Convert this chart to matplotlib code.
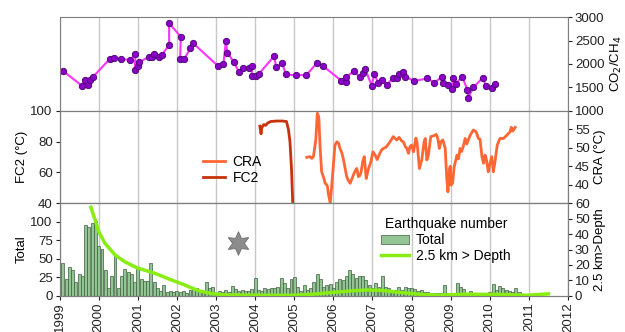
import matplotlib
matplotlib.use("Agg")
import matplotlib.pyplot as plt
import numpy as np

plt.rcParams['font.family'] = ['Liberation Sans', 'DejaVu Sans']
plt.rcParams['font.size'] = 9.5

# CO2/CH4 ratio samples
co2_year = [1999.09, 1999.57, 1999.65, 1999.73, 1999.78, 1999.85, 2000.29, 2000.39, 2000.56, 2000.80,
            2000.94, 2000.92, 2001.01, 2001.03, 2001.28, 2001.36, 2001.42, 2001.54, 2001.62, 2001.80,
            2001.80, 2002.10, 2002.08, 2002.19, 2002.34, 2002.42, 2003.04, 2003.19, 2003.25, 2003.29,
            2003.45, 2003.59, 2003.69, 2003.84, 2003.92, 2003.91, 2004.02, 2004.10, 2004.48, 2004.54,
            2004.69, 2004.79, 2005.04, 2005.31, 2005.57, 2005.73, 2006.20, 2006.33, 2006.33, 2006.53,
            2006.67, 2006.77, 2006.81, 2006.98, 2007.05, 2007.15, 2007.25, 2007.37, 2007.52, 2007.62,
            2007.68, 2007.77, 2007.84, 2008.07, 2008.40, 2008.58, 2008.77, 2008.80, 2008.94, 2009.03,
            2009.07, 2009.13, 2009.30, 2009.43, 2009.45, 2009.58, 2009.82, 2009.90, 2010.05, 2010.14]
co2_val = [1849, 1534, 1649, 1541, 1649, 1720, 2116, 2138, 2108, 2086,
           2209, 1864, 1950, 2037, 2151, 2151, 2224, 2151, 2203, 2409,
           2871, 2582, 2108, 2116, 2332, 2440, 1966, 2009, 2483, 2246,
           2040, 1825, 1914, 1907, 1957, 1735, 1735, 1793, 2162, 1935,
           2012, 1775, 1757, 1765, 2012, 1962, 1645, 1620, 1720, 1849,
           1720, 1806, 1901, 1538, 1778, 1585, 1667, 1556, 1698, 1698,
           1778, 1828, 1728, 1634, 1692, 1599, 1720, 1599, 1556, 1470,
           1707, 1578, 1728, 1433, 1282, 1498, 1707, 1526, 1483, 1578]

# FC2 fumarole temperature
fc2_year = [2004.12, 2004.15, 2004.17, 2004.22, 2004.27, 2004.32, 2004.40, 2004.55, 2004.70,
            2004.80, 2004.85, 2004.89, 2004.93, 2004.96]
fc2_val = [90, 85, 89, 91, 90.5, 92, 93, 93.3, 93.3, 93, 88, 80, 62, 41]

# CRA temperature
cra_year = [2005.32, 2005.40, 2005.45, 2005.49, 2005.55, 2005.59, 2005.62, 2005.63, 2005.66, 2005.70,
            2005.75, 2005.79, 2005.83, 2005.85, 2005.87, 2005.92, 2005.96, 2006.00, 2006.04, 2006.09,
            2006.13, 2006.17, 2006.22, 2006.26, 2006.30, 2006.34, 2006.39, 2006.43, 2006.47, 2006.51,
            2006.56, 2006.60, 2006.64, 2006.68, 2006.71, 2006.75, 2006.79, 2006.84, 2006.89, 2006.92,
            2006.96, 2007.01, 2007.07, 2007.12, 2007.19, 2007.24, 2007.28, 2007.35, 2007.45, 2007.53,
            2007.58, 2007.62, 2007.68, 2007.75, 2007.79, 2007.84, 2007.88, 2007.92, 2007.96, 2008.00,
            2008.05, 2008.11, 2008.14, 2008.20, 2008.26, 2008.32, 2008.35, 2008.39, 2008.43, 2008.49,
            2008.56, 2008.63, 2008.67, 2008.71, 2008.75, 2008.80, 2008.86, 2008.90, 2008.93, 2008.97,
            2008.99, 2009.01, 2009.05, 2009.09, 2009.16, 2009.20, 2009.24, 2009.28, 2009.32, 2009.37,
            2009.41, 2009.50, 2009.58, 2009.65, 2009.71, 2009.75, 2009.80, 2009.84, 2009.88, 2009.92,
            2009.96, 2010.00, 2010.05, 2010.09, 2010.13, 2010.19, 2010.26, 2010.35, 2010.40, 2010.48,
            2010.52, 2010.55, 2010.59, 2010.65]
cra_val = [47.4, 47.6, 47.1, 47.6, 52.0, 59.3, 58.5, 57.9, 50.3, 43.5,
           42.0, 40.4, 40.0, 39.5, 37.7, 35.0, 39.9, 45.3, 50.7, 51.6,
           51.3, 49.8, 48.5, 46.7, 44.5, 42.2, 41.0, 40.4, 41.5, 42.6,
           43.8, 44.4, 42.2, 42.5, 43.5, 46.2, 47.6, 41.7, 44.0, 45.0,
           46.2, 48.9, 48.0, 46.8, 48.5, 49.5, 49.8, 50.2, 51.6, 53.0,
           52.5, 52.1, 52.8, 51.8, 51.6, 50.3, 49.8, 48.5, 50.3, 50.7,
           48.9, 52.6, 51.5, 44.4, 46.7, 51.6, 52.5, 46.7, 48.0, 53.0,
           53.2, 53.6, 52.5, 49.8, 51.6, 52.1, 49.8, 41.7, 38.1, 44.4,
           45.0, 39.9, 40.5, 44.9, 48.0, 47.0, 49.8, 49.0, 50.3, 52.5,
           51.0, 53.4, 54.8, 54.3, 52.5, 52.3, 47.6, 45.8, 48.0, 46.5,
           43.5, 45.5, 47.6, 43.5, 46.0, 50.7, 52.5, 52.5, 53.0, 53.9,
           54.3, 55.5, 54.5, 55.5]

# monthly earthquake totals, Feb 1999 onwards
eq_total = [44, 22, 39, 35, 18, 30, 27, 95, 93, 99, 101,
            67, 63, 35, 11, 26, 56, 11, 26, 36, 32, 29, 19,
            37, 22, 20, 20, 44, 18, 10, 6, 15, 5, 7, 5,
            7, 5, 6, 4, 8, 10, 11, 6, 5, 19, 10, 12,
            4, 6, 5, 8, 5, 13, 9, 7, 8, 6, 7, 9,
            24, 8, 7, 10, 9, 11, 10, 12, 24, 17, 10, 23,
            25, 12, 6, 15, 8, 10, 19, 30, 22, 12, 14, 16,
            11, 18, 22, 21, 27, 35, 29, 24, 27, 27, 21, 14,
            11, 17, 12, 26, 12, 10, 8, 8, 12, 8, 12, 11,
            10, 9, 7, 8, 5, 5, 4, 4, 4, 4, 15, 4,
            4, 4, 17, 12, 9, 3, 6, 3, 2, 2, 2, 2,
            5, 16, 8, 13, 10, 8, 6, 5, 11, 5]
eq_start = 1999 + 1 / 12

# shallow (< 2.5 km) earthquake trend
dep_year = [1999.80, 1999.91, 2000.0, 2000.16, 2000.42, 2000.67, 2000.97, 2001.44, 2001.87, 2002.2,
            2002.33, 2002.59, 2002.93, 2003.3, 2004.0, 2005.0, 2005.5, 2006.0, 2006.5, 2006.85,
            2007.2, 2007.7, 2008.2, 2008.7, 2009.4, 2010.25, 2010.93, 2011.5]
dep_val = [57.4, 49, 41.6, 34, 26.4, 22, 18.2, 14.5, 10.1, 7,
           5.5, 3, 1.2, 0.5, 0.3, 0.3, 1.0, 2.2, 3.2, 3.7,
           3.5, 2.2, 0.9, 0.4, 1.0, 0.8, 0.3, 1.2]

star_year = 2003.55
star_total = 71

years = list(range(1999, 2013))

fig = plt.figure(figsize=(6.25, 3.32), dpi=100)
L, W = 0.0954, 0.8134
ax_top = fig.add_axes([L, 0.6666, W, 0.2813])
ax_mid = fig.add_axes([L, 0.3877, W, 0.2789])
ax_bot = fig.add_axes([L, 0.1093, W, 0.2783])
ax_cra = ax_mid.twinx()
ax_dep = ax_bot.twinx()

spine_c = '#7f7f7f'
grid_c = '#c8c8c8'

for ax in [ax_top, ax_mid, ax_bot, ax_cra, ax_dep]:
    ax.set_xlim(1999, 2012)
    for s in ax.spines.values():
        s.set_color(spine_c)
    ax.tick_params(colors='#222222', length=3, width=0.8, pad=2, labelsize=9.5)

for ax in [ax_top, ax_mid, ax_bot]:
    ax.set_xticks(years)
    ax.grid(axis='x', color=grid_c, lw=1)
    ax.set_axisbelow(True)

ax_top.tick_params(labelbottom=False, bottom=False)
ax_mid.tick_params(labelbottom=False, bottom=False)

# top panel
ax_top.plot(co2_year, co2_val, color='#ff33ff', lw=1.5, marker='o', ms=4.6,
            mfc='#8a00c8', mec='#4a006e', mew=0.6)
ax_top.set_ylim(1000, 3000)
ax_top.yaxis.tick_right()
ax_top.yaxis.set_label_position('right')
ax_top.set_yticks([1000, 1500, 2000, 2500, 3000])
ax_top.set_ylabel('CO$_2$/CH$_4$', labelpad=3)

# middle panel
l_fc2, = ax_mid.plot(fc2_year, fc2_val, color='#c8320a', lw=2, label='FC2')
ax_mid.set_ylim(40, 100)
ax_mid.set_yticks([40, 60, 80, 100])
ax_mid.set_ylabel('FC2 (°C)', labelpad=2)
l_cra, = ax_cra.plot(cra_year, cra_val, color='#ff6633', lw=2, label='CRA')
ax_cra.set_ylim(35, 60)
ax_cra.set_yticks([40, 45, 50, 55])
ax_cra.set_ylabel('CRA (°C)', labelpad=3)
ax_mid.legend(handles=[l_cra, l_fc2], loc='center', bbox_to_anchor=(0.34, 0.36),
              frameon=False, handlelength=1.6, handletextpad=0.5, labelspacing=0.1,
              fontsize=10)

# bottom panel
eq_x = eq_start + np.arange(len(eq_total)) / 12
b = ax_bot.bar(eq_x, eq_total, width=0.075, color='#93c493', edgecolor='#3d5e3d',
               lw=0.5, label='Total')
ax_bot.set_ylim(0, 125)
ax_bot.set_yticks([0, 25, 50, 75, 100])
ax_bot.set_ylabel('Total', labelpad=2)
ax_bot.plot([star_year], [star_total], marker=(6, 1, 0), ms=17, color='#8c8c8c',
            mec='#6e6e6e', mew=0.6, ls='none')
l_dep, = ax_dep.plot(dep_year, dep_val, color='#88ee11', lw=2.5, label='2.5 km > Depth')
ax_dep.set_ylim(0, 60)
ax_dep.set_yticks([0, 10, 20, 30, 40, 50, 60])
ax_dep.set_ylabel('2.5 km>Depth', labelpad=3)
ax_bot.legend(handles=[b, l_dep], title='Earthquake number', loc='center',
              bbox_to_anchor=(0.76, 0.6), frameon=False, handlelength=2.0,
              handletextpad=0.5, labelspacing=0.15, fontsize=10, title_fontsize=10)

ax_bot.set_xticks(years)
ax_bot.set_xticklabels([str(y) for y in years], rotation=90)

fig.savefig('out.png', dpi=100)
